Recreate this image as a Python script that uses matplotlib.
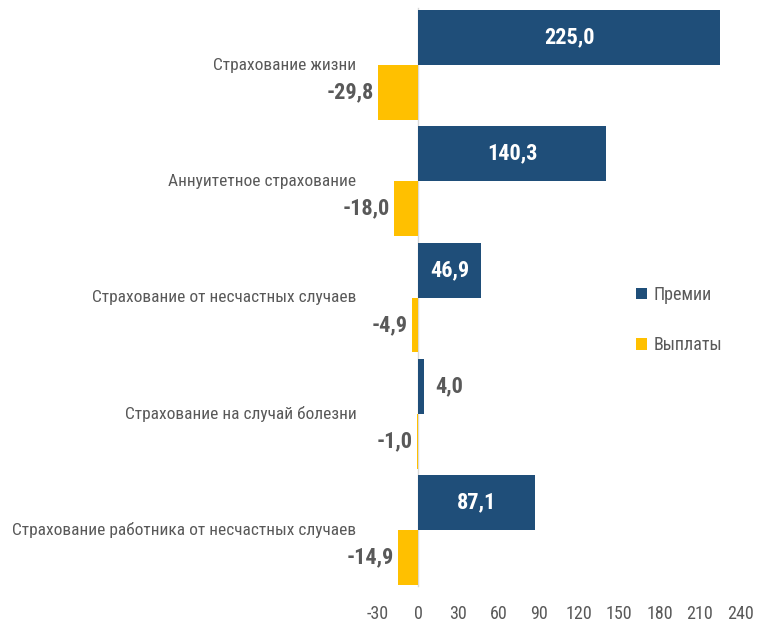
import matplotlib
matplotlib.use("Agg")
import matplotlib.pyplot as plt
from matplotlib.patches import Patch

categories = [
    "Страхование жизни",
    "Аннуитетное страхование",
    "Страхование от несчастных случаев",
    "Страхование на случай болезни",
    "Страхование работника от несчастных случаев",
]
premiums = [225.0, 140.3, 46.9, 4.0, 87.1]
payouts = [-29.8, -18.0, -4.9, -1.0, -14.9]
xticks = [-30, 0, 30, 60, 90, 120, 150, 180, 210, 240]
series_names = ["Премии", "Выплаты"]

BLUE = "#1F4E79"
YELLOW = "#FFC000"
GRAY = "#595959"

plt.rcParams['font.family'] = ['Roboto Condensed', 'PT Sans Narrow', 'DejaVu Sans']

def fmt(v):
    return f"{v:.1f}".replace(".", ",")

fig = plt.figure(figsize=(7.67, 6.25), dpi=100)
ax = fig.add_axes([378/767, 1-586/625, (740-378)/767, (586-8)/625])

h = 0.473
ys = list(range(len(categories)))
ax.barh([y - h/2 for y in ys], premiums, height=h, color=BLUE, zorder=3)
ax.barh([y + h/2 for y in ys], payouts, height=h, color=YELLOW, zorder=3)

fs = 12.5
vfs = 16
for y, cat, p, q in zip(ys, categories, premiums, payouts):
    ax.text(-46, y, cat, ha='right', va='center', fontsize=fs, color=GRAY, clip_on=False)
    if p >= 20:
        ax.text(p/2, y - h/2, fmt(p), ha='center', va='center', fontsize=vfs,
                fontweight='bold', color='white', zorder=4)
    else:
        ax.text(p + 9, y - h/2, fmt(p), ha='left', va='center', fontsize=vfs,
                fontweight='bold', color=GRAY, zorder=4)
    ax.text(q - 3, y + h/2, fmt(q), ha='right', va='center', fontsize=vfs,
            fontweight='bold', color=GRAY, clip_on=False, zorder=4)

ax.set_xlim(-30, 240)
ax.set_ylim(4 + 56/116.2, (8-65)/116.2)
ax.set_xticks(xticks)
ax.set_xticklabels([str(t) for t in xticks], fontsize=13, color=GRAY)
ax.tick_params(axis='x', length=0, pad=14)
ax.set_yticks([])
for s in ['top', 'right', 'bottom']:
    ax.spines[s].set_visible(False)
ax.spines['left'].set_position(('data', 0))
ax.spines['left'].set_color('#D9D9D9')
ax.spines['left'].set_linewidth(1.0)

handles = [Patch(facecolor=BLUE), Patch(facecolor=YELLOW)]
fig.legend(handles, series_names, loc='center left', bbox_to_anchor=(636/767, 1-320/625),
           frameon=False, fontsize=13, labelcolor=GRAY, handlelength=0.6, handleheight=0.6,
           handletextpad=0.35, labelspacing=1.8, borderpad=0, borderaxespad=0)

fig.savefig("out.png", dpi=100)
